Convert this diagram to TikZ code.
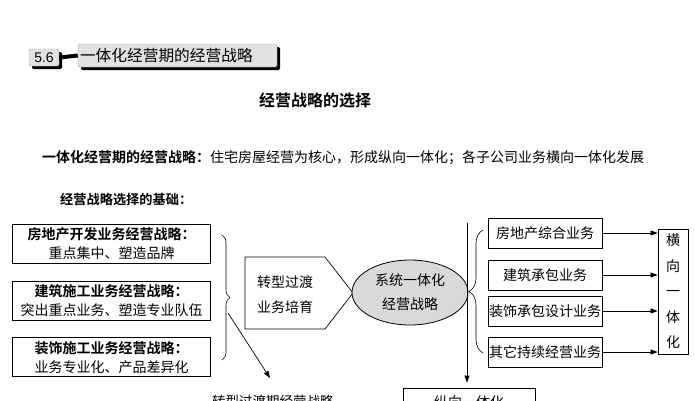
\documentclass[tikz,border=0pt]{standalone}
\usepackage{fontspec}
\newfontfamily\cjk{Noto Sans CJK SC}[BoldFont={Noto Sans CJK SC Bold}]
\newfontfamily\lat{Liberation Sans}
\usetikzlibrary{arrows.meta,decorations.pathreplacing,shapes.geometric}
\definecolor{ellgray}{RGB}{217,217,217}
\definecolor{hdrgray}{RGB}{226,226,226}
\begin{document}
\begin{tikzpicture}[x=1pt,y=-1pt,
  every node/.style={font=\cjk\fontsize{14}{16}\selectfont, inner sep=0pt},
  box/.style={draw, line width=0.8pt, align=center},
  arr/.style={-{Triangle[length=7pt,width=5pt]}, line width=0.7pt},
  hdr/.style={fill=hdrgray, draw=gray!70, line width=0.4pt, rounded corners=1.5pt},
  shadowbox/.style={fill=black, rounded corners=1.5pt},
  bracel/.style={decorate, line width=0.6pt}]
\useasboundingbox (0,0) rectangle (695,400);
\clip (0,0) rectangle (695,400);
\fill[white] (0,0) rectangle (695,400);

% header
\fill[shadowbox] (32,52) rectangle (62,69);
\node[hdr, minimum width=30, minimum height=17, font=\lat\fontsize{14}{16}\selectfont] (hnum) at (44,57.5) {5.6};
\fill[shadowbox] (81,47) rectangle (280,70);
\node[hdr, minimum width=199, minimum height=23, text width=195, align=left, inner xsep=2pt, font=\cjk\fontsize{15.7}{17}\selectfont] (htitle) at (177.5,55.5) {一体化经营期的经营战略};
\draw[line width=4pt] (hnum.east) -- (htitle.west);

% titles
\node[font=\cjk\bfseries\fontsize{16}{18}\selectfont] (title) at (315,100) {经营战略的选择};
\node[anchor=west, font=\cjk\fontsize{14}{16}\selectfont] (mainline) at (42,158) {{\bfseries 一体化经营期的经营战略：}住宅房屋经营为核心，形成纵向一体化；各子公司业务横向一体化发展};
\node[anchor=west, font=\cjk\bfseries\fontsize{13.2}{15}\selectfont] (basis) at (60,200) {经营战略选择的基础：};

% left boxes
\tikzset{lbox/.style={box, minimum width=198, minimum height=39, font=\cjk\fontsize{14}{19}\selectfont}}
\node[lbox] (l1) at (111.5,243.5) {{\bfseries 房地产开发业务经营战略：}\\重点集中、塑造品牌};
\node[lbox] (l2) at (111.5,300.5) {{\bfseries 建筑施工业务经营战略：}\\突出重点业务、塑造专业队伍};
\node[lbox] (l3) at (111.5,357.2) {{\bfseries 装饰施工业务经营战略：}\\业务专业化、产品差异化};

% left brace
\draw[bracel, decoration={brace, amplitude=8pt}] (222,235) -- (222,360);
\coordinate (dstart) at (228,313);

% transition shape
\draw[line width=0.7pt] (245,257) -- (325,257) -- (353,293) -- (325,329) -- (245,329) -- cycle;
\node[align=center, font=\cjk\fontsize{14}{25}\selectfont] (trans) at (285,295) {转型过渡\\业务培育};

% ellipse
\node[ellipse, draw, line width=0.8pt, fill=ellgray, minimum width=116, minimum height=65, align=center, font=\cjk\fontsize{14}{24}\selectfont] (sys) at (410,292.5) {系统一体化\\经营战略};

% vertical arrow
\coordinate (vtop) at (467,223);
\node[box, minimum width=132, minimum height=28] (zx) at (469,402) {纵向一体化};
\draw[arr, shorten >=5pt] (vtop) -- (vtop |- zx.north);

% right brace
\draw[bracel, decoration={brace, amplitude=14pt}] (483,353) -- (483,230);

% right boxes
\tikzset{rbox/.style={box, minimum width=114, minimum height=30}}
\node[rbox] (r1) at (545,233) {房地产综合业务};
\node[rbox] (r2) at (545,275) {建筑承包业务};
\node[rbox] (r3) at (545,311) {装饰承包设计业务};
\node[rbox] (r4) at (545,352) {其它持续经营业务};

\node[box, minimum width=30, minimum height=125, font=\cjk\fontsize{14}{25.5}\selectfont] (hv) at (673,291.5) {横\\向\\一\\体\\化};

\draw[arr] (r1.east) -- (r1.east -| hv.west);
\draw[arr] (r2.east) -- (r2.east -| hv.west);
\draw[arr] (r3.east) -- (r3.east -| hv.west);
\draw[arr] (r4.east) -- (r4.east -| hv.west);

% bottom left
\node[anchor=west, font=\cjk\fontsize{13.5}{15}\selectfont] (ttext) at (212,401) {转型过渡期经营战略};
\draw[arr] (dstart) -- (270,378);
\end{tikzpicture}
\end{document}
